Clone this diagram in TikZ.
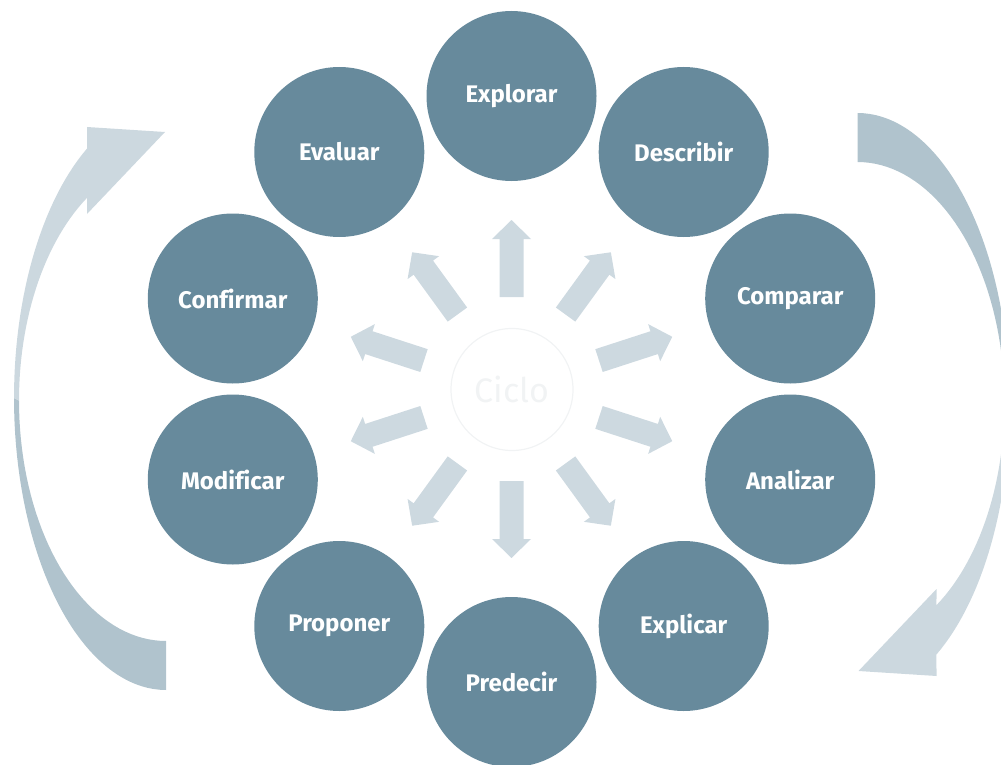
\documentclass[tikz,border=0pt]{standalone}
\usepackage{fontspec}
\setmainfont{Fira Sans}[Ligatures=NoCommon]
\definecolor{azulpaso}{HTML}{678A9C}
\definecolor{rayoclaro}{HTML}{CDD9E0}
\definecolor{cintaclara}{HTML}{CCD8DF}
\definecolor{cintaoscura}{HTML}{B0C3CD}
\definecolor{tenue}{HTML}{F1F3F4}
\tikzset{
  paso/.style={circle,fill=azulpaso,text=white,inner sep=0pt,minimum size=170pt,
    font=\fontsize{24}{28}\selectfont\bfseries},
  rayo/.style={fill=rayoclaro},
}

\begin{document}
\begin{tikzpicture}[x=1pt,y=-1pt]
\useasboundingbox (0,0) rectangle (1001,765);
% big curved arrows, the right one is the left one turned round
\foreach \giro in {0,180} {
  \begin{scope}[rotate around={\giro:(511.75,401.5)}]
    \fill [cintaoscura] plot [domain=90:180,samples=40] ({166+152*cos(\x)},{398+292*sin(\x)})
      -- plot [domain=180:90,samples=40] ({166+147*cos(\x)},{400.6+240.4*sin(\x)}) -- cycle;
    \fill [cintaclara] plot [domain=180:238.7,samples=30] ({166+152*cos(\x)},{398+292*sin(\x)})
      -- (87,127) -- (165,132) -- (87,214)
      -- plot [domain=237.5:180,samples=30] ({166+147*cos(\x)},{400.6+240.4*sin(\x)}) -- cycle;
  \end{scope}
}
% rays
\foreach \ang in {18,54,...,342}
  \fill [rayo,shift={(511.5,389)},rotate=\ang] (92,-12) -- (150,-12) -- (150,-19.5) -- (169,0)
    -- (150,19.5) -- (150,12) -- (92,12) -- cycle;
\node[circle,draw=tenue,line width=1.2pt,minimum size=122pt,inner sep=0pt,text=tenue,
  font=\fontsize{34}{40}\selectfont] (ciclo) at (512,389.5) {Ciclo};
% stages
\node[paso] (explorar) at (511.5,96) {Explorar};
\node[paso] (describir) at (683.7,152) {Describir};
\node[paso] (comparar) at (790.2,298.5) {Comparar};
\node[paso] (analizar) at (790.2,479.5) {Analizar};
\node[paso] (explicar) at (683.7,626) {Explicar};
\node[paso] (predecir) at (511.5,682) {Predecir};
\node[paso] (proponer) at (339.3,626) {Proponer};
\node[paso] (modificar) at (232.8,479.5) {Modificar};
\node[paso] (confirmar) at (232.8,298.5) {Confirmar};
\node[paso] (evaluar) at (339.3,152) {Evaluar};
\end{tikzpicture}
\end{document}
